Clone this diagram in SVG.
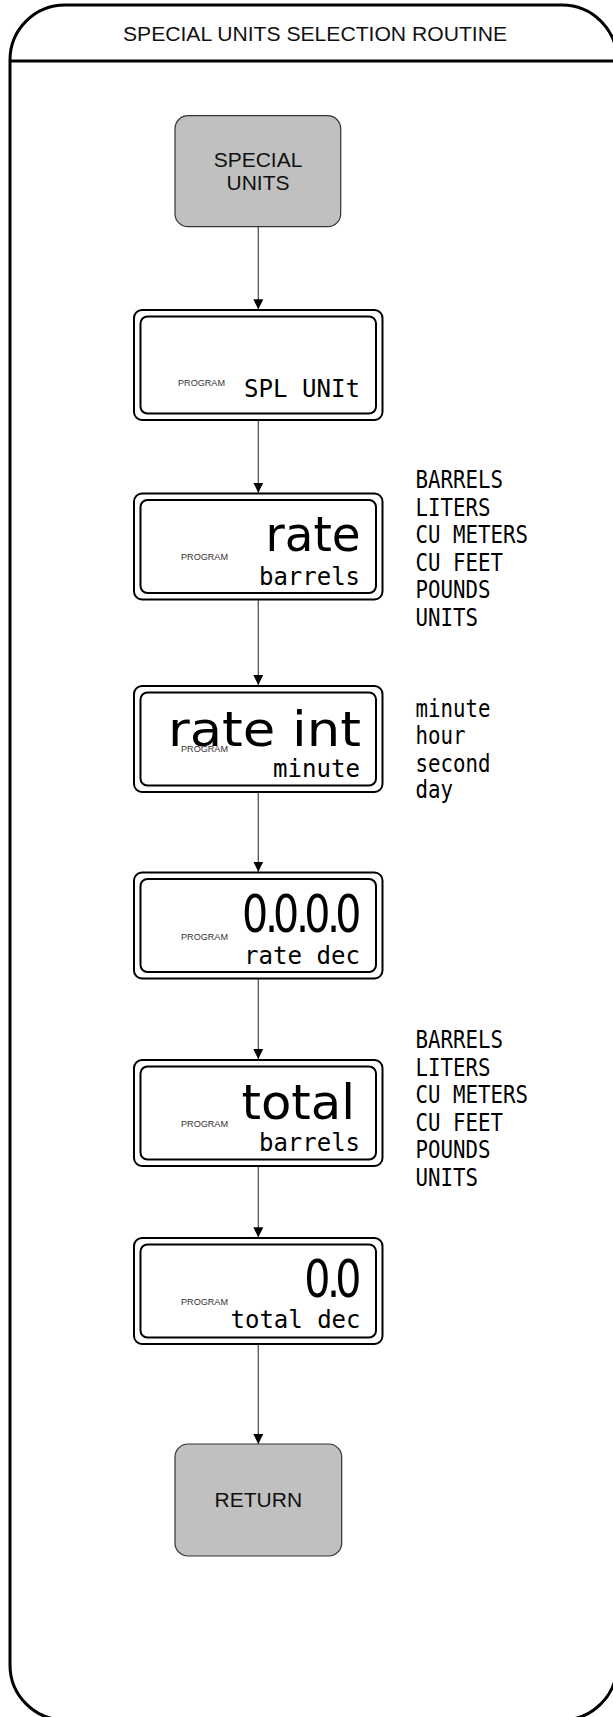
<svg xmlns="http://www.w3.org/2000/svg" width="613" height="1717" viewBox="0 0 613 1717">
<defs>
<style>
.frame{fill:none;stroke:#000;stroke-width:3}
.term rect{fill:#c0c0c0;stroke:#333;stroke-width:1.2}
.term text{font-family:"Liberation Sans",Arial,sans-serif;font-size:21px;fill:#111;text-anchor:middle}
.outer{fill:#fff;stroke:#000;stroke-width:2}
.inner{fill:none;stroke:#000;stroke-width:2}
.prog{font-family:"Liberation Sans",Arial,sans-serif;font-size:9px;fill:#333}
.big{font-family:"DejaVu Sans Condensed","DejaVu Sans",sans-serif;font-size:48px;fill:#000}
.dig{font-family:"DejaVu Sans Condensed","DejaVu Sans",sans-serif;font-size:52px;fill:#000}
.mono{font-family:"DejaVu Sans Mono",monospace;font-size:25px;fill:#000}
.conn line{stroke:#555;stroke-width:1.3}
</style>
<marker id="ah" markerWidth="10" markerHeight="12" refX="10" refY="5" orient="auto" markerUnits="userSpaceOnUse">
<path d="M0,0 L10,5 L0,10 z" fill="#000"/>
</marker>
</defs>
<rect width="613" height="1717" fill="#fff"/>
<g id="frame">
<rect class="frame" x="10" y="5" width="607" height="1715" rx="55" ry="55"/>
<line x1="10" y1="61" x2="617" y2="61" stroke="#000" stroke-width="3"/>
<text x="123" y="40.5" textLength="384" lengthAdjust="spacingAndGlyphs" font-family="Liberation Sans,Arial,sans-serif" font-size="20.5" fill="#111">SPECIAL UNITS SELECTION ROUTINE</text>
</g>
<g class="conn">
<line x1="258.3" y1="226.7" x2="258.3" y2="309.3" marker-end="url(#ah)"/>
<line x1="258.3" y1="420.7" x2="258.3" y2="492.7" marker-end="url(#ah)"/>
<line x1="258.3" y1="600.2" x2="258.3" y2="685" marker-end="url(#ah)"/>
<line x1="258.3" y1="792.7" x2="258.3" y2="871.7" marker-end="url(#ah)"/>
<line x1="258.3" y1="979" x2="258.3" y2="1059" marker-end="url(#ah)"/>
<line x1="258.3" y1="1166.7" x2="258.3" y2="1237.3" marker-end="url(#ah)"/>
<line x1="258.3" y1="1344.3" x2="258.3" y2="1444" marker-end="url(#ah)"/>
</g>
<g id="special-units" class="term">
<rect x="175" y="115.7" width="165.7" height="111" rx="13"/>
<text x="258" y="166.7">SPECIAL</text>
<text x="258" y="190">UNITS</text>
</g>
<g id="disp-spl-unit">
<rect class="outer" x="134" y="310" width="248.5" height="110" rx="8"/>
<rect class="inner" x="140.5" y="316.5" width="235.5" height="97" rx="7"/>
<text class="prog" x="178" y="385.7" textLength="47" lengthAdjust="spacingAndGlyphs">PROGRAM</text>
<text class="mono" x="244" y="396.7" textLength="116" lengthAdjust="spacingAndGlyphs">SPL UNIt</text>
</g>
<g id="disp-rate">
<rect class="outer" x="134" y="493.5" width="248.5" height="106" rx="8"/>
<rect class="inner" x="140.5" y="500" width="235.5" height="93" rx="7"/>
<text class="prog" x="181" y="560" textLength="47" lengthAdjust="spacingAndGlyphs">PROGRAM</text>
<text class="big" x="265.5" y="551" textLength="95" lengthAdjust="spacingAndGlyphs">rate</text>
<text class="mono" x="259" y="585" textLength="101" lengthAdjust="spacingAndGlyphs">barrels</text>
</g>
<g id="disp-rate-int">
<rect class="outer" x="134" y="686" width="248.5" height="106" rx="8"/>
<rect class="inner" x="140.5" y="692.5" width="235.5" height="93" rx="7"/>
<text class="big" x="168" y="745.7" textLength="193" lengthAdjust="spacingAndGlyphs">rate int</text>
<text class="prog" x="181" y="752.3" textLength="47" lengthAdjust="spacingAndGlyphs">PROGRAM</text>
<text class="mono" x="273" y="776.7" textLength="87" lengthAdjust="spacingAndGlyphs">minute</text>
</g>
<g id="disp-rate-dec">
<rect class="outer" x="134" y="872.5" width="248.5" height="106" rx="8"/>
<rect class="inner" x="140.5" y="879" width="235.5" height="93" rx="7"/>
<text class="prog" x="181" y="940" textLength="47" lengthAdjust="spacingAndGlyphs">PROGRAM</text>
<text class="dig" transform="scale(0.88 1)" x="275 301 310.3 336.4 345.7 371.7 381" y="931.7">0.0.0.0</text>
<text class="mono" x="244" y="964" textLength="116" lengthAdjust="spacingAndGlyphs">rate dec</text>
</g>
<g id="disp-total">
<rect class="outer" x="134" y="1060" width="248.5" height="106" rx="8"/>
<rect class="inner" x="140.5" y="1066.5" width="235.5" height="93" rx="7"/>
<text class="prog" x="181" y="1126.7" textLength="47" lengthAdjust="spacingAndGlyphs">PROGRAM</text>
<text class="big" x="241.5" y="1119.3" textLength="113.5" lengthAdjust="spacingAndGlyphs">total</text>
<text class="mono" x="259" y="1151" textLength="101" lengthAdjust="spacingAndGlyphs">barrels</text>
</g>
<g id="disp-total-dec">
<rect class="outer" x="134" y="1238" width="248.5" height="106" rx="8"/>
<rect class="inner" x="140.5" y="1244.5" width="235.5" height="93" rx="7"/>
<text class="prog" x="181" y="1305" textLength="47" lengthAdjust="spacingAndGlyphs">PROGRAM</text>
<text class="dig" transform="scale(0.88 1)" x="345.7 371.7 381" y="1296.7">0.0</text>
<text class="mono" x="230.5" y="1328.3" textLength="130" lengthAdjust="spacingAndGlyphs">total dec</text>
</g>
<g id="return" class="term">
<rect x="175" y="1444" width="166.7" height="112" rx="13"/>
<text x="258.3" y="1506.7">RETURN</text>
</g>
<g id="list-rate-units" class="mono" transform="translate(415.5 0) scale(0.83 1)">
<text x="0" y="488.3">BARRELS</text>
<text x="0" y="515.8">LITERS</text>
<text x="0" y="543.3">CU METERS</text>
<text x="0" y="570.8">CU FEET</text>
<text x="0" y="598.3">POUNDS</text>
<text x="0" y="625.8">UNITS</text>
</g>
<g id="list-intervals" class="mono" transform="translate(415.5 0) scale(0.83 1)">
<text x="0" y="716.7">minute</text>
<text x="0" y="744">hour</text>
<text x="0" y="771.7">second</text>
<text x="0" y="798.5">day</text>
</g>
<g id="list-total-units" class="mono" transform="translate(415.5 0) scale(0.83 1)">
<text x="0" y="1048.5">BARRELS</text>
<text x="0" y="1076">LITERS</text>
<text x="0" y="1103.5">CU METERS</text>
<text x="0" y="1131">CU FEET</text>
<text x="0" y="1158.5">POUNDS</text>
<text x="0" y="1186">UNITS</text>
</g>
</svg>
